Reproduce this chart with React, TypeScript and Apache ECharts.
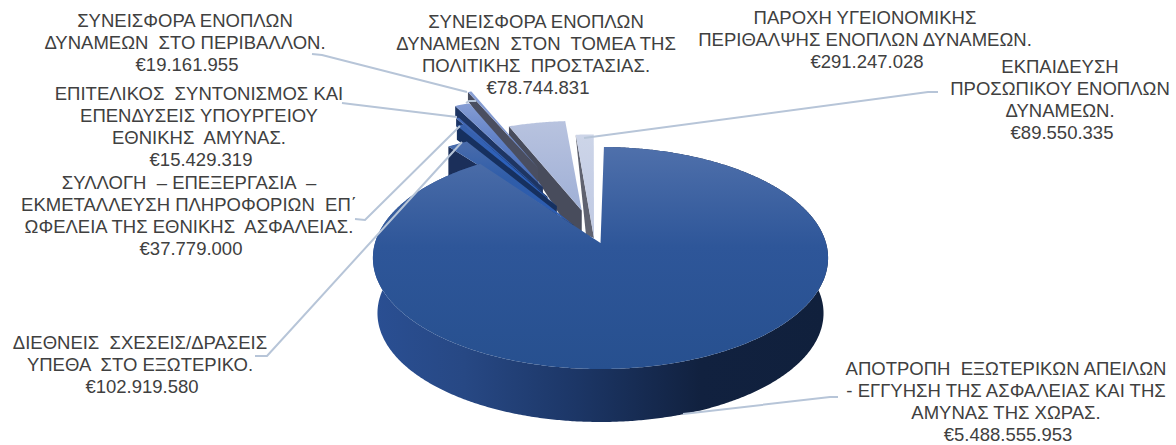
import React, { useEffect, useRef } from "react";
import * as echarts from "echarts";

// ---- data (clockwise order from the first slice angle) ----
const names = [
  ["ΑΠΟΤΡΟΠΗ  ΕΞΩΤΕΡΙΚΩΝ ΑΠΕΙΛΩΝ", "- ΕΓΓΥΗΣΗ ΤΗΣ ΑΣΦΑΛΕΙΑΣ ΚΑΙ ΤΗΣ", "ΑΜΥΝΑΣ ΤΗΣ ΧΩΡΑΣ."],
  ["ΔΙΕΘΝΕΙΣ  ΣΧΕΣΕΙΣ/ΔΡΑΣΕΙΣ", "ΥΠΕΘΑ  ΣΤΟ ΕΞΩΤΕΡΙΚΟ."],
  ["ΣΥΛΛΟΓΗ  – ΕΠΕΞΕΡΓΑΣΙΑ  –", "ΕΚΜΕΤΑΛΛΕΥΣΗ ΠΛΗΡΟΦΟΡΙΩΝ  ΕΠ΄", "ΩΦΕΛΕΙΑ ΤΗΣ ΕΘΝΙΚΗΣ  ΑΣΦΑΛΕΙΑΣ."],
  ["ΕΠΙΤΕΛΙΚΟΣ  ΣΥΝΤΟΝΙΣΜΟΣ ΚΑΙ", "ΕΠΕΝΔΥΣΕΙΣ ΥΠΟΥΡΓΕΙΟΥ", "ΕΘΝΙΚΗΣ  ΑΜΥΝΑΣ."],
  ["ΣΥΝΕΙΣΦΟΡΑ ΕΝΟΠΛΩΝ", "ΔΥΝΑΜΕΩΝ  ΣΤΟΝ  ΤΟΜΕΑ ΤΗΣ", "ΠΟΛΙΤΙΚΗΣ  ΠΡΟΣΤΑΣΙΑΣ."],
  ["ΣΥΝΕΙΣΦΟΡΑ ΕΝΟΠΛΩΝ", "ΔΥΝΑΜΕΩΝ  ΣΤΟ ΠΕΡΙΒΑΛΛΟΝ."],
  ["ΠΑΡΟΧΗ ΥΓΕΙΟΝΟΜΙΚΗΣ", "ΠΕΡΙΘΑΛΨΗΣ ΕΝΟΠΛΩΝ ΔΥΝΑΜΕΩΝ."],
  ["ΕΚΠΑΙΔΕΥΣΗ", "ΠΡΟΣΩΠΙΚΟΥ ΕΝΟΠΛΩΝ", "ΔΥΝΑΜΕΩΝ."],
];
const values = [5488555953, 102919580, 37779000, 15429319, 78744831, 19161955, 291247028, 89550335];

// ---- layout and style, per slice ----
const apexOffsets = [
  [0, 0],
  [-0.174, -0.2],
  [-0.241, -0.395],
  [-0.287, -0.471],
  [-0.32, -0.625],
  [-0.34, -0.78],
  [-0.11, -0.32],
  [-0.052, -0.15],
];
// the picture's slices taper further in than their tips imply (screen px)
const apexPull = [
  [0, 0],
  [11, 3],
  [8, 4],
  [8, 2],
  [9, 7],
  [7, 2],
  [5, 1],
  [5, 11],
];
const tipWall = [53, 34, 14, 8, 10, 9, 10, 2];
const apexWallOffset = [
  [0, 53],
  [0, 12],
  [0, 10],
  [0, 8],
  [0, 10],
  [0, 30],
  [0, 38],
  [-8, -3],
];
const topStops = [
  ["#4f70ab", "#2e5699", "#27508f"],
  ["#4a6cab", "#2f5da9", "#2b5cb4"],
  ["#3a62ac", "#2c60ba", "#2c60ba"],
  ["#4468b4", "#3160b4", "#3160b4"],
  ["#869dd4", "#5f80c6", "#3d66b6"],
  ["#8aa0d4", "#7c94ce", "#6c88c6"],
  ["#b8c3df", "#adbadb", "#9fb0d6"],
  ["#cdd5e8", "#c6cfe6", "#c0cae2"],
];
const wallColors = ["", "#1b2f5a", "#16305f", "#1a3364", "#1e3563", "#4a4e60", "#484c5c", "#5f6270"];
const paintOrder = [6, 5, 4, 3, 2, 1, 7, 0];

const labelX = [1006, 140, 189, 199, 536, 185, 865, 1060];
const labelY = [368, 342, 182, 93, 21, 20, 17, 66];
const leaders = [
  [[838, 397], [830, 397], [683, 414]],
  [[255, 356], [267, 356], [462, 142]],
  [[355, 219], [365, 220], [460, 126]],
  [[342, 103], [350, 104], [457, 117]],
  [[466, 103], [469, 101], [476, 101]],
  [[312, 54], [322, 55], [467, 92]],
  [],
  [[938, 92], [928, 92], [584, 138]],
];

const X0 = 600.5, Y0 = 243, RX = 225.5, RY = 109, K = 0.135;
const START_DEG = 1;
const BOTTOM_SCALE = 0.98, BOTTOM_DY = 55.5;
const FONT = '18.5px "Liberation Sans", Arial, sans-serif';
const LINE_H = 22;

const total = values.reduce((a, b) => a + b, 0);
const angles: [number, number][] = [];
values.reduce((acc, v) => {
  const next = acc + (v / total) * 360;
  angles.push([acc, next]);
  return next;
}, START_DEG);

const rad = (d: number) => (d * Math.PI) / 180;
const dir = (d: number) => [Math.sin(rad(d)), -Math.cos(rad(d))];
const project = (u: number, v: number, bottom = false) => {
  const s = 1 / (1 - K * v);
  const b = bottom ? BOTTOM_SCALE : 1;
  return [X0 + RX * u * s * b, Y0 + RY * v * s * b + (bottom ? BOTTOM_DY : 0)];
};
const euro = (n: number) => "€" + String(n).replace(/\B(?=(\d{3})+$)/g, ".");

function arc(i: number, bottom = false) {
  const a = apexOffsets[i];
  const pts: number[][] = [];
  const [s, e] = angles[i];
  const n = Math.max(2, Math.ceil(e - s) * 2);
  for (let j = 0; j <= n; j++) {
    const d = dir(s + ((e - s) * j) / n);
    pts.push(project(a[0] + d[0], a[1] + d[1], bottom));
  }
  return pts;
}

function renderSlice(params: any) {
  const i = paintOrder[params.dataIndex];
  const a = apexOffsets[i];
  const p = project(a[0], a[1]);
  const apex = [p[0] + apexPull[i][0], p[1] + apexPull[i][1]];
  const top = arc(i);
  const children: any[] = [];
  if (i === 0) {
    children.push({
      type: "polygon",
      shape: { points: [...top, ...arc(0, true).reverse()] },
      style: {
        fill: new echarts.graphic.LinearGradient(0, 0, 1, 0, [
          { offset: 0, color: "#2a4f93" },
          { offset: 0.2, color: "#274884" },
          { offset: 0.45, color: "#1c3666" },
          { offset: 0.72, color: "#11213f" },
          { offset: 1, color: "#10203c" },
        ]),
      },
    });
  } else {
    const t = top[0];
    const w = apexWallOffset[i];
    children.push({
      type: "polygon",
      shape: {
        points: [apex, t, [t[0], t[1] + tipWall[i]], [apex[0] + w[0], apex[1] + w[1]]],
      },
      style: { fill: wallColors[i] },
    });
  }
  const stops = topStops[i];
  children.push({
    type: "polygon",
    shape: { points: [apex, ...top] },
    style: {
      fill: new echarts.graphic.LinearGradient(0, 0, 0, 1, [
        { offset: 0, color: stops[0] },
        { offset: 0.45, color: stops[1] },
        { offset: 1, color: stops[2] },
      ]),
    },
  });
  return { type: "group", children };
}

function buildGraphic() {
  const els: any[] = [];
  leaders.forEach((pts) => {
    if (pts.length)
      els.push({
        type: "polyline",
        z: 10,
        shape: { points: pts },
        style: { stroke: "#b7c5d8", lineWidth: 2, fill: "none" },
      });
  });
  names.forEach((lines, i) => {
    [...lines, euro(values[i])].forEach((text, j) => {
      els.push({
        type: "text",
        z: 11,
        x: labelX[i] + (j === lines.length ? 2 : 0),
        y: labelY[i] + j * LINE_H,
        style: { text, font: FONT, fill: "#404040", align: "center", verticalAlign: "middle" },
      });
    });
  });
  return els;
}

export default function App() {
  const ref = useRef<HTMLDivElement>(null);
  useEffect(() => {
    document.body.style.margin = "0";
    const chart = echarts.init(ref.current!, undefined, { renderer: "svg" });
    chart.setOption({
      animation: false,
      backgroundColor: "#ffffff",
      series: [
        {
          type: "custom",
          coordinateSystem: "none",
          silent: true,
          data: paintOrder.map((i) => values[i]),
          renderItem: renderSlice,
        },
      ],
      graphic: { elements: buildGraphic() },
    });
    return () => chart.dispose();
  }, []);
  return <div ref={ref} style={{ width: 1176, height: 445 }} />;
}
